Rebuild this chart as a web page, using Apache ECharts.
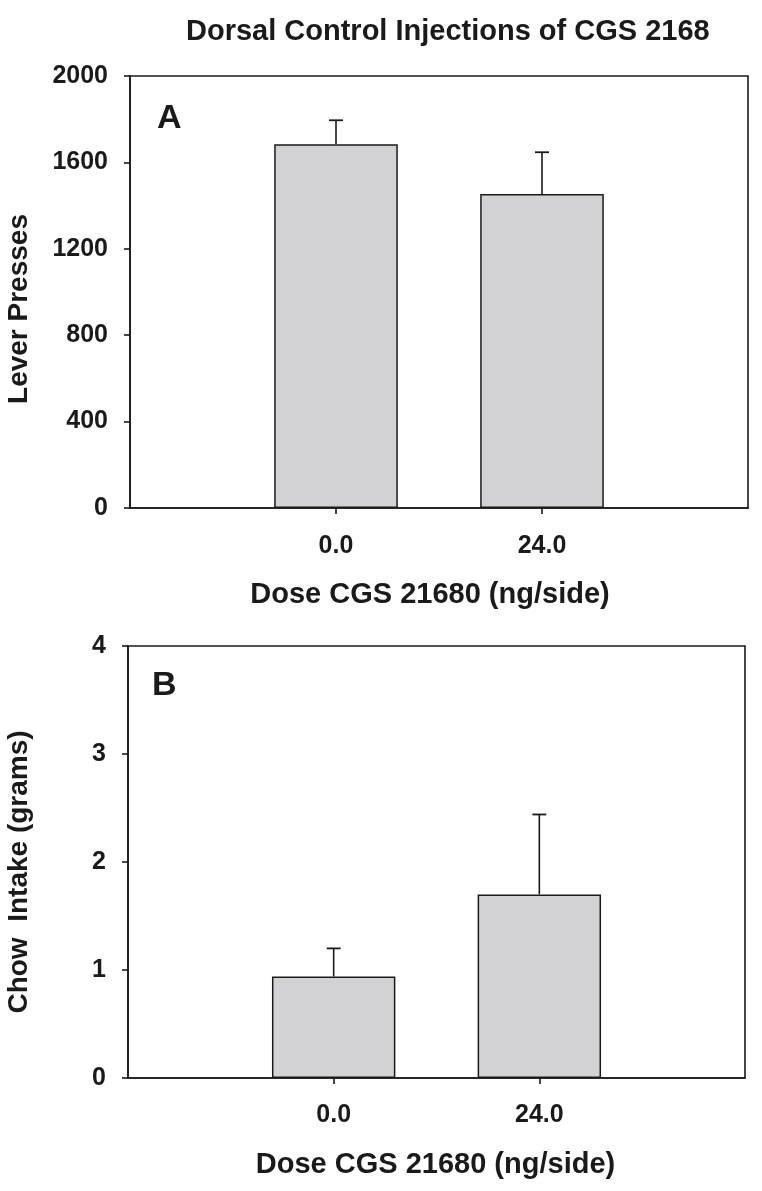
<!DOCTYPE html>
<html>
<head>
<meta charset="utf-8">
<script src="https://cdn.jsdelivr.net/npm/echarts@6/dist/echarts.min.js"></script>
<style>
  html, body { margin: 0; padding: 0; background: #fff; }
  #chart { width: 762px; height: 1191px; }
</style>
</head>
<body>
<div id="chart"></div>
<script>
var chart = echarts.init(document.getElementById('chart'));

// dose groups (x axis), padded with empty slots on both ends
var doseLabels = ['0.0', '24.0'];
// panel A: lever presses, mean and SEM
var pressMean = [1684, 1454];
var pressSem = [111, 193];
// panel B: chow intake (grams), mean and SEM
var chowMean = [0.94, 1.70];
var chowSem = [0.26, 0.74];

var fontFam = '"Liberation Sans", Arial, sans-serif';
var ink = '#1a1a1a';

var cats = [''].concat(doseLabels, ['']);

function padVals(arr) {
    return ['-'].concat(arr, ['-']);
}
function errData(mean, sem) {
    var res = [];
    for (var i = 0; i < mean.length; i++) {
        res.push([i + 1, mean[i], sem[i]]);
    }
    return res;
}

// upper error bar with a short cap
function renderErr(params, api) {
    var x = api.value(0);
    var top = api.coord([x, api.value(1) + api.value(2)]);
    var base = api.coord([x, api.value(1)]);
    var half = 7;
    return {
        type: 'group',
        children: [
            {type: 'line', shape: {x1: base[0], y1: base[1], x2: top[0], y2: top[1]},
             style: {stroke: ink, lineWidth: 1.6}},
            {type: 'line', shape: {x1: top[0] - half, y1: top[1], x2: top[0] + half, y2: top[1]},
             style: {stroke: ink, lineWidth: 1.8}}
        ]
    };
}

function xAxisCfg(idx, margin) {
    return {
        type: 'category',
        gridIndex: idx,
        data: cats,
        boundaryGap: false,
        axisLine: {lineStyle: {color: ink, width: 1.6}},
        axisTick: {
            length: 6,
            lineStyle: {color: ink, width: 1.6},
            interval: function(i) { return i === 1 || i === 2; }
        },
        axisLabel: {interval: 0, margin: margin, color: ink, fontSize: 25, fontWeight: 'bold', fontFamily: fontFam},
        splitLine: {show: false},
        name: 'Dose CGS 21680 (ng/side)',
        nameLocation: 'middle',
        nameGap: 72,
        nameTextStyle: {color: ink, fontSize: 29, fontWeight: 'bold', fontFamily: fontFam,
                        padding: idx === 0 ? [0, 18, 0, 0] : [0, 2, 0, 0]}
    };
}

function yAxisCfg(idx, max, interval, name, gap, pad) {
    return {
        type: 'value',
        gridIndex: idx,
        min: 0,
        max: max,
        interval: interval,
        axisLine: {show: true, lineStyle: {color: ink, width: 1.6}},
        axisTick: {show: true, length: 6, lineStyle: {color: ink, width: 1.6}},
        axisLabel: {margin: 22, color: ink, fontSize: 25, fontWeight: 'bold', fontFamily: fontFam,
                    formatter: function(v) { return String(v); }},
        splitLine: {show: false},
        name: name,
        nameLocation: 'middle',
        nameGap: gap,
        nameRotate: 90,
        nameTextStyle: {color: ink, fontSize: 28, fontWeight: 'bold', fontFamily: fontFam, padding: pad}
    };
}

var barStyle = {color: '#d2d2d4', borderColor: ink, borderWidth: 1.5};

var option = {
    backgroundColor: '#fff',
    animation: false,
    title: {
        text: 'Dorsal Control Injections of CGS 2168',
        left: 181,
        top: 12,
        textStyle: {color: ink, fontSize: 29, fontWeight: 'bold', fontFamily: fontFam}
    },
    grid: [
        {left: 130, top: 76, width: 618, height: 432, show: true, borderColor: ink, borderWidth: 1.6,
         outerBoundsMode: 'none'},
        {left: 128, top: 646, width: 617, height: 432, show: true, borderColor: ink, borderWidth: 1.6,
         outerBoundsMode: 'none'}
    ],
    xAxis: [xAxisCfg(0, 26), xAxisCfg(1, 25)],
    yAxis: [
        yAxisCfg(0, 2000, 400, 'Lever Presses', 97, [0, 34, 0, 0]),
        yAxisCfg(1, 4, 1, 'Chow  Intake (grams)', 95, [0, 20, 0, 0])
    ],
    graphic: [
        {type: 'text', left: 157, top: 102,
         style: {text: 'A', fill: ink, font: 'bold 34px ' + fontFam}},
        {type: 'text', left: 152, top: 669,
         style: {text: 'B', fill: ink, font: 'bold 34px ' + fontFam}}
    ],
    series: [
        {type: 'bar', xAxisIndex: 0, yAxisIndex: 0, barWidth: '60%',
         itemStyle: barStyle, data: padVals(pressMean)},
        {type: 'custom', xAxisIndex: 0, yAxisIndex: 0, renderItem: renderErr,
         data: errData(pressMean, pressSem), z: 3},
        {type: 'bar', xAxisIndex: 1, yAxisIndex: 1, barWidth: '60%',
         itemStyle: barStyle, data: padVals(chowMean)},
        {type: 'custom', xAxisIndex: 1, yAxisIndex: 1, renderItem: renderErr,
         data: errData(chowMean, chowSem), z: 3}
    ]
};

chart.setOption(option);
</script>
</body>
</html>
